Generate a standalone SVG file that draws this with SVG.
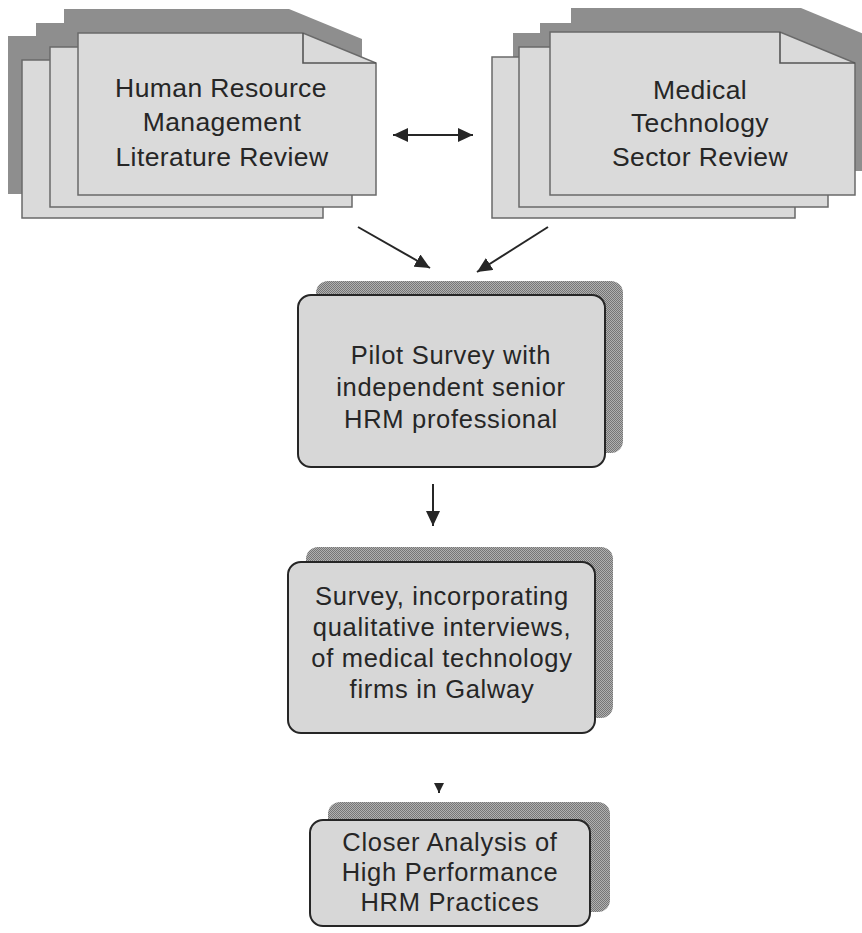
<svg xmlns="http://www.w3.org/2000/svg" width="862" height="933" viewBox="0 0 862 933">
<defs>
<style>
.sh{fill:#8e8e8e;}
.pg{fill:#dadada;stroke:#6a6a6a;stroke-width:1.5;}
.fold{fill:none;stroke:#555;stroke-width:1.6;}
.bsh{fill:url(#stip);}
.box{fill:#d7d7d7;stroke:#262626;stroke-width:2;}
.t{font-family:"Liberation Sans",Arial,sans-serif;fill:#262626;text-anchor:middle;}
.t1{font-size:26.5px;letter-spacing:0.4px;}
.t2{font-size:25.5px;letter-spacing:0.7px;}
.c{fill:none;stroke:#262626;stroke-width:2;}
</style>
<pattern id="stip" width="2" height="2" patternUnits="userSpaceOnUse">
<rect width="2" height="2" fill="#b0b0b0"/>
<rect width="1" height="1" fill="#767676"/>
<rect x="1" y="1" width="1" height="1" fill="#767676"/>
</pattern>
<marker id="ah" viewBox="0 0 15 14" refX="15" refY="7" markerWidth="15" markerHeight="14" markerUnits="userSpaceOnUse" orient="auto-start-reverse">
<path d="M0,0 L15,7 L0,14 z" fill="#262626"/>
</marker>
<marker id="ahs" viewBox="0 0 10 10" refX="10" refY="5" markerWidth="10" markerHeight="10" markerUnits="userSpaceOnUse" orient="auto">
<path d="M0,0 L10,5 L0,10 z" fill="#262626"/>
</marker>
</defs>
<rect width="862" height="933" fill="#ffffff"/>

<g id="hrm-review">
<polygon class="sh" points="8,36 236,36 309,66 309,194 8,194"/>
<polygon class="sh" points="36,23 265,23 338,53 338,183 36,183"/>
<polygon class="sh" points="64,9 289,9 362,39 362,171 64,171"/>
<polygon class="pg" points="22,60 250,60 323,90 323,218 22,218"/>
<polygon class="pg" points="50,47 279,47 352,77 352,207 50,207"/>
<polygon class="pg" points="78,33 303,33 376,63 376,195 78,195"/>
<polyline class="fold" points="303,33 303,63 376,63"/>
<text class="t t1" x="221" y="97">Human Resource</text>
<text class="t t1" x="222" y="131">Management</text>
<text class="t t1" x="222" y="166">Literature Review</text>
</g>

<g id="medtech-review">
<polygon class="sh" points="513,33 741,33 816,64 816,194 513,194"/>
<polygon class="sh" points="540,23 774,23 849,54 849,183 540,183"/>
<polygon class="sh" points="571,8 801,8 876,39 876,171 571,171"/>
<polygon class="pg" points="492,57 720,57 795,88 795,218 492,218"/>
<polygon class="pg" points="519,47 753,47 828,78 828,207 519,207"/>
<polygon class="pg" points="550,32 780,32 855,63 855,195 550,195"/>
<polyline class="fold" points="780,32 780,63 855,63"/>
<text class="t t1" x="700" y="99">Medical</text>
<text class="t t1" x="700" y="132">Technology</text>
<text class="t t1" x="700" y="166">Sector Review</text>
</g>

<g id="pilot-survey">
<rect class="bsh" x="316" y="281" width="307" height="172" rx="12"/>
<rect class="box" x="298" y="295" width="307" height="172" rx="13"/>
<text class="t t2" x="451" y="364">Pilot Survey with</text>
<text class="t t2" x="451" y="396">independent senior</text>
<text class="t t2" x="451" y="428">HRM professional</text>
</g>

<g id="survey">
<rect class="bsh" x="306" y="547" width="307" height="171" rx="12"/>
<rect class="box" x="288" y="562" width="307" height="171" rx="13"/>
<text class="t t2" x="442" y="605">Survey, incorporating</text>
<text class="t t2" x="442" y="636">qualitative interviews,</text>
<text class="t t2" x="442" y="667">of medical technology</text>
<text class="t t2" x="442" y="698">firms in Galway</text>
</g>

<g id="closer-analysis">
<rect class="bsh" x="328" y="802" width="282" height="110" rx="12"/>
<rect class="box" x="310" y="820" width="280" height="106" rx="13"/>
<text class="t t2" x="450" y="851">Closer Analysis of</text>
<text class="t t2" x="450" y="881">High Performance</text>
<text class="t t2" x="450" y="911">HRM Practices</text>
</g>

<g id="connectors">
<line class="c" x1="393" y1="135" x2="473" y2="135" marker-start="url(#ah)" marker-end="url(#ah)"/>
<line class="c" x1="358" y1="227" x2="430" y2="268" marker-end="url(#ah)"/>
<line class="c" x1="548" y1="227" x2="477" y2="272" marker-end="url(#ah)"/>
<line class="c" x1="433" y1="484" x2="433" y2="526" marker-end="url(#ah)"/>
<line class="c" x1="439" y1="783" x2="439" y2="793" marker-end="url(#ahs)"/>
</g>
</svg>
